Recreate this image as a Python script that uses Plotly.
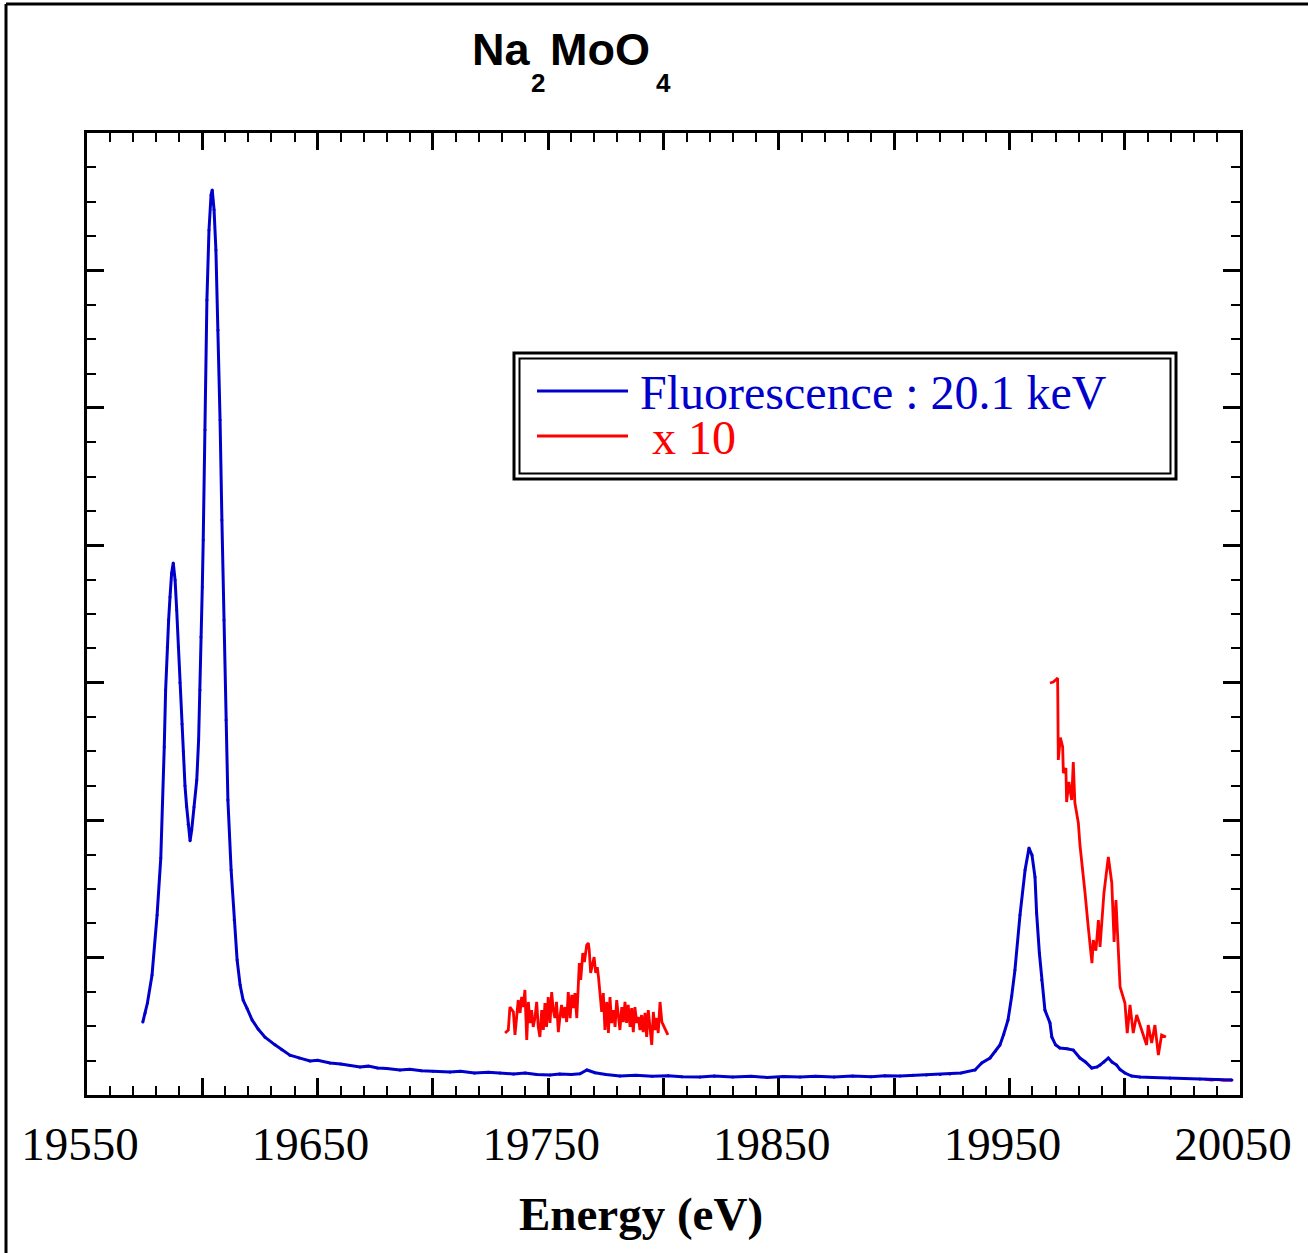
import plotly.graph_objects as go

# ---------------- data ----------------
# Mo K fluorescence spectrum of Na2MoO4 (excitation 20.1 keV)
energy_fluo = [
    19574.2, 19575.2, 19576.2, 19578.2, 19580.4, 19582.0, 19582.8, 19583.5, 19584.1,
    19584.8, 19585.4, 19586.0, 19586.7, 19587.4, 19588.2, 19588.9, 19589.6, 19590.3,
    19591.2, 19591.8, 19592.5, 19593.2, 19593.9, 19594.7, 19595.4, 19596.4, 19597.6,
    19598.4, 19599.0, 19599.4, 19600.0, 19600.4, 19601.2, 19602.0, 19602.9, 19603.8,
    19604.3, 19605.1, 19605.9, 19606.8, 19607.7, 19608.5, 19609.4, 19610.3, 19611.1,
    19612.5, 19613.8, 19615.1, 19616.4, 19617.7, 19619.4, 19621.6, 19624.2, 19627.2,
    19631.5, 19634.5, 19638.0, 19642.0, 19646.7, 19650.0, 19655.4, 19660.0, 19664.0,
    19668.4, 19672.0, 19676.0, 19680.0, 19685.7, 19690.0, 19695.0, 19700.0, 19707.4,
    19712.0, 19718.0, 19724.0, 19729.1, 19735.0, 19740.0, 19745.0, 19750.8, 19755.0,
    19760.0, 19763.8, 19766.8, 19770.3, 19775.0, 19781.1, 19788.0, 19795.0, 19802.0,
    19808.0, 19815.8, 19822.0, 19830.0, 19838.0, 19845.0, 19852.0, 19859.2, 19866.0,
    19874.0, 19882.0, 19890.0, 19896.0, 19902.6, 19908.0, 19914.0, 19920.0, 19924.2,
    19929.0, 19935.1, 19938.0, 19941.6, 19944.0, 19945.9, 19947.5, 19949.4, 19951.0,
    19952.4, 19954.6, 19956.8, 19958.5, 19959.8, 19961.1, 19961.8, 19963.0, 19964.0,
    19965.4, 19967.6, 19968.4, 19970.0, 19971.9, 19975.0, 19977.7, 19980.6, 19983.0,
    19985.7, 19988.0, 19989.3, 19991.0, 19992.9, 19994.5, 19996.5, 19998.0, 20000.1,
    20003.0, 20006.6, 20012.0, 20019.6, 20026.0, 20032.6, 20040.0, 20046.5,
]
intensity_fluo = [
    0.531, 0.597, 0.669, 0.873, 1.310, 1.725, 2.125, 2.532, 2.947,
    3.260, 3.456, 3.624, 3.798, 3.871, 3.747, 3.529, 3.260, 3.000,
    2.700, 2.500, 2.250, 2.100, 1.970, 1.850, 1.928, 2.096, 2.292,
    2.583, 2.947, 3.333, 3.697, 4.038, 4.839, 5.785, 6.294, 6.549,
    6.586, 6.441, 6.149, 5.566, 4.912, 4.184, 3.456, 2.729, 2.147,
    1.637, 1.273, 0.982, 0.800, 0.691, 0.630, 0.546, 0.480, 0.420,
    0.365, 0.330, 0.290, 0.270, 0.248, 0.252, 0.233, 0.225, 0.214,
    0.204, 0.210, 0.196, 0.192, 0.182, 0.188, 0.176, 0.172, 0.167,
    0.172, 0.160, 0.165, 0.160, 0.153, 0.160, 0.150, 0.146, 0.152,
    0.150, 0.155, 0.182, 0.162, 0.150, 0.138, 0.143, 0.136, 0.140,
    0.133, 0.131, 0.138, 0.131, 0.136, 0.128, 0.135, 0.131, 0.136,
    0.131, 0.138, 0.133, 0.140, 0.138, 0.143, 0.146, 0.150, 0.153,
    0.160, 0.182, 0.233, 0.269, 0.320, 0.364, 0.440, 0.546, 0.720,
    0.909, 1.310, 1.637, 1.797, 1.746, 1.586, 1.324, 1.033, 0.837,
    0.618, 0.524, 0.422, 0.365, 0.342, 0.336, 0.327, 0.269, 0.240,
    0.196, 0.204, 0.218, 0.240, 0.269, 0.240, 0.218, 0.185, 0.160,
    0.138, 0.131, 0.128, 0.124, 0.120, 0.116, 0.113, 0.109,
]

# Weak regions magnified x10 (None separates the three windows)
energy_x10 = [
    19731.3, 19732.7, 19733.4, 19734.9, 19735.6, 19736.3, 19737.0, 19737.8, 19738.5,
    19739.2, 19739.9, 19740.7, 19741.4, 19742.1, 19742.8, 19743.5, 19744.3, 19745.0,
    19745.7, 19746.4, 19747.2, 19747.9, 19748.6, 19749.3, 19750.0, 19750.8, 19751.5,
    19752.2, 19752.9, 19753.6, 19754.4, 19755.1, 19755.8, 19756.5, 19757.3, 19758.0,
    19758.7, 19759.5, 19760.2, 19760.9, 19761.6, 19762.4, 19763.1, 19763.5, 19764.1,
    19765.0, 19765.7, 19766.7, 19767.4, 19767.8, 19768.4, 19769.1, 19769.9, 19770.6,
    19771.3, 19771.8, 19772.5, 19773.2, 19773.9, 19774.6, 19775.4, 19776.1, 19776.8,
    19777.5, 19778.2, 19779.0, 19779.7, 19780.4, 19781.1, 19781.9, 19782.6, 19783.3,
    19784.0, 19784.7, 19785.5, 19786.2, 19786.9, 19787.6, 19788.4, 19789.1, 19789.8,
    19790.5, 19791.2, 19792.0, 19792.7, 19793.4, 19794.1, 19794.9, 19795.6, 19796.3,
    19797.1, 19797.7, 19798.5, 19799.3, 19801.9,
    None,
    19967.6, 19969.0, 19970.5, 19970.9, 19971.0, 19971.2, 19972.1, 19973.1, 19973.4,
    19974.5, 19974.8, 19975.8, 19977.0, 19977.7, 19978.4, 19979.9, 19980.6, 19981.8,
    19982.8, 19984.2, 19985.8, 19986.4, 19987.5, 19988.6, 19989.3, 19991.0, 19992.9,
    19994.4, 19995.4, 19996.2, 19997.2, 19998.0, 20000.1, 20001.1, 20002.3, 20003.7,
    20005.2, 20007.4, 20009.5, 20010.2, 20011.7, 20013.1, 20014.6, 20016.0, 20017.9,
    None,
    20034.8, 20037.5, 20040.2, 20043.0, 20046.5,
]
intensity_x10 = [
    0.451, 0.473, 0.640, 0.604, 0.437, 0.546, 0.691, 0.597, 0.713,
    0.640, 0.764, 0.400, 0.677, 0.524, 0.618, 0.495, 0.568, 0.677,
    0.495, 0.422, 0.618, 0.473, 0.669, 0.495, 0.713, 0.524, 0.749,
    0.618, 0.560, 0.677, 0.458, 0.568, 0.655, 0.560, 0.640, 0.531,
    0.749, 0.560, 0.728, 0.633, 0.742, 0.560, 0.764, 0.960, 0.837,
    1.033, 0.968, 1.091, 1.106, 1.055, 0.888, 0.946, 1.004, 0.888,
    0.931, 0.859, 0.742, 0.604, 0.742, 0.473, 0.677, 0.451, 0.713,
    0.524, 0.618, 0.495, 0.691, 0.560, 0.473, 0.640, 0.531, 0.677,
    0.524, 0.655, 0.495, 0.633, 0.458, 0.640, 0.524, 0.568, 0.473,
    0.582, 0.458, 0.597, 0.422, 0.618, 0.473, 0.364, 0.604, 0.473,
    0.560, 0.451, 0.677, 0.531, 0.437,
    None,
    2.998, 3.005, 3.027, 3.034, 2.880, 2.438, 2.600, 2.532, 2.343,
    2.379, 2.132, 2.278, 2.147, 2.423, 2.125, 1.979, 1.819, 1.652,
    1.470, 1.222, 0.960, 1.128, 1.050, 1.273, 1.077, 1.470, 1.732,
    1.543, 1.113, 1.419, 1.055, 0.786, 0.669, 0.451, 0.655, 0.451,
    0.582, 0.473, 0.364, 0.509, 0.378, 0.509, 0.291, 0.437, 0.422,
    None,
    0.116, 0.109, 0.113, 0.106, 0.109,
]

x_major_ticks = [19550, 19600, 19650, 19700, 19750, 19800, 19850, 19900, 19950, 20000, 20050]
x_tick_labels = ["19550", "", "19650", "", "19750", "", "19850", "", "19950", "", "20050"]

legend_labels = ["Fluorescence : 20.1 keV", " x 10"]

# ---------------- styling ----------------
BLUE = "#0000CC"
RED = "#FF0000"
W, H = 1308, 1253
ML, MR, MT, MB = 87, 68, 133, 158
PW, PH = W - ML - MR, H - MT - MB


def px(xp):
    """Horizontal pixel -> paper coordinate."""
    return (xp - ML) / PW


def py(yp):
    """Vertical pixel -> paper coordinate."""
    return (H - MB - yp) / PH


fig = go.Figure()
fig.add_trace(go.Scatter(
    x=energy_x10, y=intensity_x10, mode="lines", name=legend_labels[1],
    line=dict(color=RED, width=2.8), connectgaps=False, showlegend=False,
))
fig.add_trace(go.Scatter(
    x=energy_fluo, y=intensity_fluo, mode="lines+markers", name=legend_labels[0],
    line=dict(color=BLUE, width=3), marker=dict(size=3, color=BLUE),
    showlegend=False,
))

axis_common = dict(
    showline=True, linecolor="black", linewidth=3, mirror="allticks",
    ticks="inside", ticklen=17, tickwidth=2.5, tickcolor="black",
    showgrid=False, zeroline=False,
)

fig.update_xaxes(
    range=[19550, 20050], tickmode="array", tickvals=x_major_ticks, ticktext=x_tick_labels,
    tickfont=dict(family="Liberation Serif", size=47, color="black"),
    ticklabelshift=-7, ticklabelstandoff=6,
    minor=dict(dtick=10, tick0=19550, ticks="inside", ticklen=9, tickwidth=2, tickcolor="black"),
    **axis_common,
)
fig.update_yaxes(
    range=[0, 7], tick0=0, dtick=1, showticklabels=False,
    minor=dict(dtick=0.25, tick0=0, ticks="inside", ticklen=9, tickwidth=2, tickcolor="black"),
    **axis_common,
)

shapes = [
    # page frame (top and left edges)
    dict(type="line", xref="paper", yref="paper", x0=px(6), x1=px(W + 5), y0=py(4), y1=py(4),
         line=dict(color="black", width=3)),
    dict(type="line", xref="paper", yref="paper", x0=px(6), x1=px(6), y0=py(4), y1=py(H + 5),
         line=dict(color="black", width=3)),
    # legend double border
    dict(type="rect", xref="paper", yref="paper", x0=px(514), x1=px(1176), y0=py(353), y1=py(479),
         line=dict(color="black", width=3)),
    dict(type="rect", xref="paper", yref="paper", x0=px(519.5), x1=px(1170.5), y0=py(358.5), y1=py(473.5),
         line=dict(color="black", width=2)),
    # legend line samples
    dict(type="line", xref="paper", yref="paper", x0=px(537), x1=px(628), y0=py(391), y1=py(391),
         line=dict(color=BLUE, width=2.8)),
    dict(type="line", xref="paper", yref="paper", x0=px(537), x1=px(628), y0=py(436), y1=py(436),
         line=dict(color=RED, width=2.8)),
]

annotations = [
    dict(text=legend_labels[0], x=px(638), y=py(392), xanchor="left", yanchor="middle",
         height=42, valign="middle",
         font=dict(family="Liberation Serif", size=48, color=BLUE)),
    dict(text=legend_labels[1], x=px(638), y=py(437), xanchor="left", yanchor="middle",
         height=42, valign="middle",
         font=dict(family="Liberation Serif", size=48, color=RED)),
    # axis title
    dict(text="<b>Energy (eV)</b>", x=px(641), y=py(1214), xanchor="center", yanchor="middle",
         font=dict(family="Liberation Serif", size=47, color="black")),
    # chemical formula title, subscripts placed separately
    dict(text="<b>Na</b>", x=px(470), y=py(49), xanchor="left", yanchor="middle",
         font=dict(family="Liberation Sans", size=45, color="black")),
    dict(text="<b>2</b>", x=px(529), y=py(83), xanchor="left", yanchor="middle",
         font=dict(family="Liberation Sans", size=26, color="black")),
    dict(text="<b>MoO</b>", x=px(548), y=py(49), xanchor="left", yanchor="middle",
         font=dict(family="Liberation Sans", size=45, color="black")),
    dict(text="<b>4</b>", x=px(654), y=py(83), xanchor="left", yanchor="middle",
         font=dict(family="Liberation Sans", size=26, color="black")),
]
for a in annotations:
    a.update(xref="paper", yref="paper", showarrow=False)

fig.update_layout(
    width=W, height=H, autosize=False,
    margin=dict(l=ML, r=MR, t=MT, b=MB, pad=0),
    paper_bgcolor="white", plot_bgcolor="white",
    shapes=shapes, annotations=annotations, showlegend=False,
)

fig.write_html("out.html")
